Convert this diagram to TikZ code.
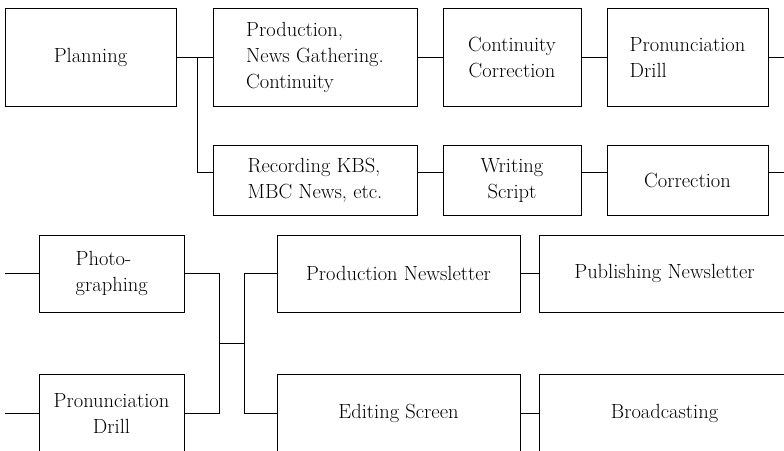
\documentclass[tikz,border=0pt]{standalone}
\usetikzlibrary{calc}
\begin{document}
\begin{tikzpicture}[x=1pt,y=-1pt,
  box/.style={draw, line width=1pt, rectangle, inner sep=0pt, font=\fontsize{20.5}{26}\selectfont},
  link/.style={line width=0.8pt}]
\useasboundingbox (0,0) rectangle (784,450);
\clip (0,0) rectangle (784,450);
% top row
\node[box, minimum width=171pt, minimum height=98pt] (plan) at (90.5,57) {Planning};
\node[box, minimum width=204pt, minimum height=98pt, align=left] (prod) at (315,57) {Production,\\News Gathering.\\Continuity};
\node[box, minimum width=138pt, minimum height=98pt, align=center] (cc) at (512,57) {Continuity\\Correction};
\node[box, minimum width=161pt, minimum height=98pt, align=left] (pd1) at (687.5,57) {Pronunciation\\Drill};
% second row
\node[box, minimum width=204pt, minimum height=70pt, align=left] (rec) at (315,180) {Recording KBS,\\MBC News, etc.};
\node[box, minimum width=138pt, minimum height=70pt, align=center] (ws) at (512,180) {Writing\\Script};
\node[box, minimum width=161pt, minimum height=70pt] (corr) at (687.5,180) {Correction};
% third row
\node[box, minimum width=145.5pt, minimum height=77pt, align=left] (photo) at (111.75,273.5) {Photo-\\graphing};
\node[box, minimum width=243pt, minimum height=77pt] (pnl) at (398.5,273.5) {Production Newsletter};
\node[box, minimum width=251pt, minimum height=77pt] (pub) at (664.5,273.5) {Publishing Newsletter};
% fourth row
\node[box, minimum width=145pt, minimum height=78pt, align=center] (pd2) at (111.5,413) {Pronunciation\\Drill};
\node[box, minimum width=243pt, minimum height=78pt] (edit) at (398.5,413) {Editing Screen};
\node[box, minimum width=251pt, minimum height=78pt] (broad) at (664.5,413) {Broadcasting};
% top connectors
\draw[link] (plan.east) -- (prod.west);
\coordinate (j1) at (197,57);
\draw[link] (j1) |- ([yshift=8pt]rec.west);
\draw[link] (prod.east) -- (cc.west);
\draw[link] (cc.east) -- (pd1.west);
\draw[link] (pd1.east) -- ++(30,0);
\draw[link] ([yshift=8pt]rec.east) -- ([yshift=8pt]ws.west);
\draw[link] ([yshift=8pt]ws.east) -- ([yshift=8pt]corr.west);
\draw[link] ([yshift=8pt]corr.east) -- ++(30,0);
% bottom connectors
\coordinate (L1) at (5,273.5);
\coordinate (L2) at (5,413);
\draw[link] (L1) -- (photo.west);
\draw[link] (L2) -- (pd2.west);
\coordinate (j2) at (219,343);
\coordinate (j3) at (244,343);
\draw[link] (photo.east) -| (j2);
\draw[link] (pd2.east) -| (j2);
\draw[link] (j2) -- (j3);
\draw[link] (j3) |- (pnl.west);
\draw[link] (j3) |- (edit.west);
\draw[link] (pnl.east) -- (pub.west);
\draw[link] (edit.east) -- (broad.west);
\end{tikzpicture}
\end{document}
